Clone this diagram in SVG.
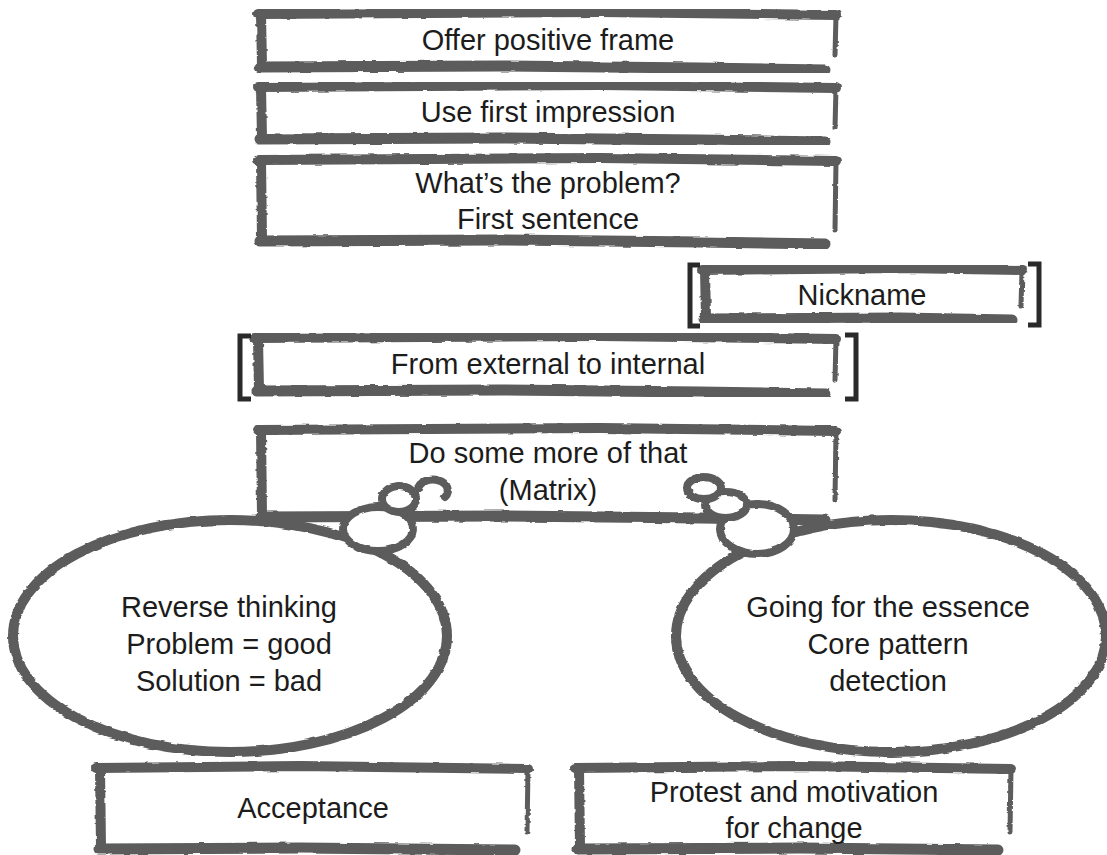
<svg xmlns="http://www.w3.org/2000/svg" width="1107" height="855" viewBox="0 0 1107 855">
<defs>
<filter id="rough" x="-5%" y="-5%" width="110%" height="110%">
<feTurbulence type="fractalNoise" baseFrequency="0.06 0.25" numOctaves="2" seed="3" result="n"/>
<feDisplacementMap in="SourceGraphic" in2="n" scale="3" xChannelSelector="R" yChannelSelector="G"/>
</filter>
</defs>
<style>
.edge{fill:none;stroke:#5b5b5b;stroke-linecap:round;stroke-linejoin:round}
.t{stroke-width:10}
.l{stroke-width:10}
.r{stroke-width:5}
.b{stroke-width:11}
.shape{fill:#fff;stroke:#5b5b5b;stroke-width:10}
.bub{fill:#fff;stroke:#5b5b5b;stroke-width:8}
.brk{fill:none;stroke:#2a2a2a;stroke-width:5;stroke-linecap:butt}
.lbl{font-family:"Liberation Sans",Arial,sans-serif;font-size:29px;fill:#1c1c1c;text-anchor:middle}
</style>
<rect width="1107" height="855" fill="#fff"/>

<g id="offer-positive-frame">
<g filter="url(#rough)">
<path class="edge t" d="M258 14 L600 12 L836 15"/>
<path class="edge l" d="M261 14 L262 66"/>
<path class="edge r" d="M836 15 L835 55"/>
<path class="edge b" d="M260 67 L500 66 L700 68 L825 70"/>
</g>
<text class="lbl" x="548" y="50">Offer positive frame</text>
</g>

<g id="use-first-impression">
<g filter="url(#rough)">
<path class="edge t" d="M258 87 L600 85 L836 88"/>
<path class="edge l" d="M261 87 L262 138"/>
<path class="edge r" d="M836 88 L835 128"/>
<path class="edge b" d="M260 139 L500 138 L700 140 L825 142"/>
</g>
<text class="lbl" x="548" y="122">Use first impression</text>
</g>

<g id="whats-the-problem">
<g filter="url(#rough)">
<path class="edge t" d="M258 160 L600 158 L836 161"/>
<path class="edge l" d="M261 160 L262 240"/>
<path class="edge r" d="M836 161 L835 230"/>
<path class="edge b" d="M260 241 L500 240 L700 242 L825 244"/>
</g>
<text class="lbl" x="548" y="193">What’s the problem?</text>
<text class="lbl" x="548" y="229">First sentence</text>
</g>

<g id="nickname">
<g filter="url(#rough)">
<path class="edge t" d="M702 270 L900 268 L1022 270"/>
<path class="edge l" d="M705 270 L706 318"/>
<path class="edge r" d="M1022 270 L1021 306"/>
<path class="edge b" d="M704 319 L900 318 L1012 320"/>
</g>
<path class="brk" d="M700 265 L690 265 L690 326 L700 326"/>
<path class="brk" d="M1028 264 L1039 264 L1039 325 L1028 325"/>
<text class="lbl" x="862" y="305">Nickname</text>
</g>

<g id="from-external-to-internal">
<g filter="url(#rough)">
<path class="edge t" d="M254 338 L600 336 L836 339"/>
<path class="edge l" d="M258 338 L259 390"/>
<path class="edge r" d="M836 339 L835 380"/>
<path class="edge b" d="M257 391 L500 390 L700 392 L825 394"/>
</g>
<path class="brk" d="M251 336 L240 336 L240 399 L251 399"/>
<path class="brk" d="M845 335 L856 335 L856 399 L845 399"/>
<text class="lbl" x="548" y="374">From external to internal</text>
</g>

<g id="do-some-more">
<g filter="url(#rough)">
<path class="edge t" d="M258 430 L600 428 L836 431"/>
<path class="edge l" d="M261 430 L262 516"/>
<path class="edge r" d="M836 431 L835 500"/>
<path class="edge b" d="M260 517 L500 516 L700 518 L825 520"/>
</g>
<text class="lbl" x="548" y="463">Do some more of that</text>
<text class="lbl" x="548" y="500">(Matrix)</text>
</g>

<g id="reverse-thinking">
<ellipse class="shape" cx="230" cy="636" rx="217" ry="116" filter="url(#rough)"/>
<text class="lbl" x="229" y="617">Reverse thinking</text>
<text class="lbl" x="229" y="654">Problem = good</text>
<text class="lbl" x="229" y="691">Solution = bad</text>
</g>

<g id="going-for-essence">
<ellipse class="shape" cx="891" cy="636" rx="215" ry="116" filter="url(#rough)"/>
<text class="lbl" x="888" y="617">Going for the essence</text>
<text class="lbl" x="888" y="654">Core pattern</text>
<text class="lbl" x="888" y="691">detection</text>
</g>

<g id="connectors" filter="url(#rough)">
<ellipse class="bub" cx="378" cy="529" rx="35" ry="22"/>
<ellipse class="bub" cx="399" cy="499" rx="17" ry="13"/>
<path class="edge" style="stroke-width:8" d="M418 489 A15 11 0 1 1 445 497"/>
<ellipse class="bub" cx="757" cy="529" rx="37" ry="25"/>
<ellipse class="bub" cx="726" cy="505" rx="21" ry="13"/>
<ellipse class="bub" cx="704" cy="488" rx="17" ry="11"/>
</g>

<g id="acceptance">
<g filter="url(#rough)">
<path class="edge t" d="M96 768 L300 766 L528 769"/>
<path class="edge l" d="M100 768 L101 848"/>
<path class="edge r" d="M528 769 L527 832"/>
<path class="edge b" d="M99 849 L300 848 L515 850"/>
</g>
<text class="lbl" x="313" y="818">Acceptance</text>
</g>

<g id="protest-motivation">
<g filter="url(#rough)">
<path class="edge t" d="M575 768 L800 766 L1011 769"/>
<path class="edge l" d="M579 768 L580 848"/>
<path class="edge r" d="M1011 769 L1010 832"/>
<path class="edge b" d="M578 849 L800 848 L998 850"/>
</g>
<text class="lbl" x="794" y="802">Protest and motivation</text>
<text class="lbl" x="794" y="838">for change</text>
</g>
</svg>
